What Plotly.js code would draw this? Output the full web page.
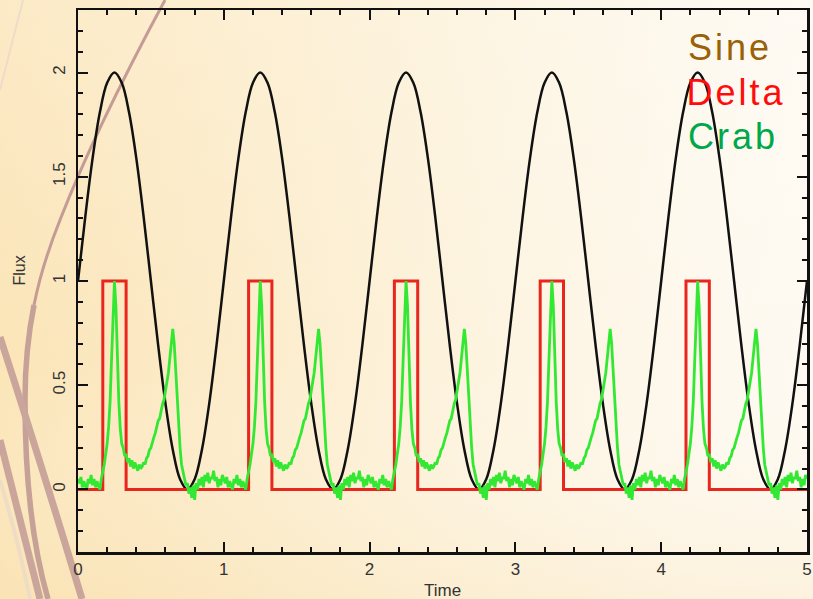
<!DOCTYPE html>
<html>
<head>
<meta charset="utf-8">
<script src="https://cdn.plot.ly/plotly-3.0.1.min.js"></script>
<style>
  html, body { margin:0; padding:0; }
  body { width:813px; height:599px; overflow:hidden; position:relative;
    background: linear-gradient(100deg, #fbe3b3 0%, #fcebc8 30%, #fdf4e0 60%, #fef9ef 85%, #fefaf2 100%); }
  #bg { position:absolute; left:0; top:0; }
  #chart { position:absolute; left:0; top:0; width:813px; height:599px; }
  g.annotation[data-index="0"] text, g.annotation[data-index="1"] text, g.annotation[data-index="2"] text { letter-spacing:3px; }
</style>
</head>
<body>
<svg id="bg" width="813" height="599" xmlns="http://www.w3.org/2000/svg">
  <defs>
    <linearGradient id="vshade" x1="0" y1="0" x2="0" y2="1">
      <stop offset="0" stop-color="#ffffff" stop-opacity="0.25"/>
      <stop offset="0.6" stop-color="#ffffff" stop-opacity="0"/>
      <stop offset="1" stop-color="#f6d9a0" stop-opacity="0.25"/>
    </linearGradient>
  </defs>
  <rect x="0" y="0" width="813" height="599" fill="url(#vshade)"/>
  <path d="M23,0 L0,90" stroke="#eedbc9" stroke-width="2" fill="none"/>
  <path d="M0,480 Q18,540 30,599" stroke="#efdcc4" stroke-width="4" fill="none"/>
  <path d="M165,0 Q95,130 60,220 Q42,265 34,305" stroke="#c49c95" stroke-width="3" fill="none"/>
  <path d="M34,305 Q25,350 25,400 Q25,520 48,599" stroke="#c6a198" stroke-width="5.5" fill="none"/>
  <path d="M0,337 Q40,460 82,599" stroke="#c9a59b" stroke-width="7" fill="none"/>
  <path d="M0,440 Q20,520 40,599" stroke="#c9a59b" stroke-width="7" fill="none"/>
</svg>
<div id="chart"></div>
<script>
// ---- data (one period profiles) ----
const periods = [0, 1, 2, 3, 4];

const sinePhase = [0, 0.05, 0.1, 0.15, 0.2, 0.25, 0.3, 0.35, 0.4, 0.45, 0.5, 0.55, 0.6, 0.65, 0.7, 0.75, 0.8, 0.85, 0.9, 0.95];
const sineValue = [1, 1.309, 1.588, 1.809, 1.951, 2, 1.951, 1.809, 1.588, 1.309, 1, 0.691, 0.412, 0.191, 0.049, 0, 0.049, 0.191, 0.412, 0.691];

const deltaPhase = [0, 0.17, 0.17, 0.33, 0.33];
const deltaValue = [0, 0, 1, 1, 0];

const crabPhase = [0, 0.01, 0.02, 0.03, 0.04, 0.05, 0.06, 0.07, 0.08, 0.09,
  0.10, 0.11, 0.12, 0.13, 0.14, 0.15, 0.16, 0.17, 0.18, 0.19,
  0.20, 0.21, 0.22, 0.23, 0.24, 0.25, 0.26, 0.27, 0.28, 0.29,
  0.30, 0.31, 0.32, 0.33, 0.34, 0.35, 0.36, 0.37, 0.38, 0.39,
  0.40, 0.41, 0.42, 0.43, 0.44, 0.45, 0.46, 0.47, 0.48, 0.49,
  0.50, 0.51, 0.52, 0.53, 0.54, 0.55, 0.56, 0.57, 0.58, 0.59,
  0.60, 0.61, 0.62, 0.63, 0.64, 0.65, 0.66, 0.67, 0.68, 0.69,
  0.70, 0.71, 0.72, 0.73, 0.74, 0.75, 0.76, 0.77, 0.78, 0.79,
  0.80, 0.81, 0.82, 0.83, 0.84, 0.85, 0.86, 0.87, 0.88, 0.89,
  0.90, 0.91, 0.92, 0.93, 0.94, 0.95, 0.96, 0.97, 0.98, 0.99];
const crabValue = [0.05, 0.03, 0.06, 0.01, 0.04, 0.02, 0.00, 0.05, 0.03, 0.07,
  0.02, 0.05, 0.01, 0.04, 0.02, 0.00, 0.05, 0.08, 0.12, 0.17,
  0.22, 0.30, 0.42, 0.62, 0.86, 1.00, 0.88, 0.64, 0.42, 0.29,
  0.22, 0.20, 0.16, 0.17, 0.13, 0.15, 0.11, 0.14, 0.10, 0.13,
  0.11, 0.09, 0.12, 0.10, 0.11, 0.13, 0.12, 0.15, 0.16, 0.19,
  0.20, 0.23, 0.25, 0.27, 0.30, 0.33, 0.34, 0.38, 0.41, 0.43,
  0.47, 0.52, 0.56, 0.63, 0.70, 0.77, 0.70, 0.57, 0.42, 0.30,
  0.20, 0.12, 0.08, 0.04, 0.02, 0.03, -0.02, 0.01, -0.04, 0.02,
  -0.05, 0.03, 0.00, 0.05, 0.02, 0.06, 0.01, 0.07, 0.04, 0.08,
  0.03, 0.06, 0.05, 0.09, 0.04, 0.06, 0.01, 0.05, 0.02, 0.07];

const xTickVals = [0, 1, 2, 3, 4, 5];
const yTickVals = [0, 0.5, 1, 1.5, 2];
const legendNames = ["Sine", "Delta", "Crab"];

// ---- build series by repeating each one-period profile ----
function tile(phase, vals) {
  const x = [], y = [];
  periods.forEach(p => phase.forEach((ph, i) => { x.push(p + ph); y.push(vals[i]); }));
  x.push(periods.length); y.push(vals[0]);
  return {x, y};
}
const sine = tile(sinePhase, sineValue);
const delta = tile(deltaPhase, deltaValue);
const crab = tile(crabPhase, crabValue);

const traces = [
  {x: sine.x, y: sine.y, mode: 'lines', line: {color: '#111111', width: 2.5, shape: 'spline', smoothing: 1}, hoverinfo: 'skip'},
  {x: delta.x, y: delta.y, mode: 'lines', line: {color: '#e8261e', width: 3}, hoverinfo: 'skip'},
  {x: crab.x, y: crab.y, mode: 'lines', line: {color: '#33e833', width: 2.8}, hoverinfo: 'skip'}
];

const tickFont = {family: 'Liberation Sans, Arial, sans-serif', size: 17, color: '#333333'};
const axisCommon = {
  showline: true, linecolor: '#111111', linewidth: 2.5, mirror: 'ticks',
  ticks: 'inside', ticklen: 10, tickwidth: 2, tickcolor: '#111111',
  showgrid: false, zeroline: false, tickfont: tickFont
};

const legendColors = ['#9a6208', '#ff0d0d', '#00a84a'];
const legendY = [0.930, 0.847, 0.766];
const annotations = legendNames.map((t, i) => ({
  text: t, xref: 'paper', yref: 'paper', x: 0.842, y: legendY[i],
  xanchor: 'left', yanchor: 'middle', showarrow: false,
  font: {family: 'Liberation Sans, Arial, sans-serif', size: 36, color: legendColors[i]}
}));
annotations.push({text: 'Time', xref: 'paper', yref: 'paper', x: 0.5, y: 0, yshift: -38,
  xanchor: 'center', yanchor: 'middle', showarrow: false,
  font: {family: 'Liberation Sans, Arial, sans-serif', size: 17, color: '#333333'}});
annotations.push({text: 'Flux', xref: 'paper', yref: 'y', x: 0, xshift: -58, y: 1.05,
  xanchor: 'center', yanchor: 'middle', textangle: -90, showarrow: false,
  font: {family: 'Liberation Sans, Arial, sans-serif', size: 16, color: '#333333'}});

const layout = {
  width: 813, height: 599,
  margin: {l: 78, r: 6, t: 10, b: 47},
  paper_bgcolor: 'rgba(0,0,0,0)', plot_bgcolor: 'rgba(0,0,0,0)',
  showlegend: false,
  xaxis: Object.assign({}, axisCommon, {range: [0, 5], tickvals: xTickVals,
    minor: {dtick: 0.2, ticks: 'inside', ticklen: 5, tickwidth: 2, tickcolor: '#111111'}}),
  yaxis: Object.assign({}, axisCommon, {range: [-0.3, 2.3], tickvals: yTickVals, tickangle: -90,
    ticklabelstandoff: 4,
    minor: {dtick: 0.1, ticks: 'inside', ticklen: 5, tickwidth: 2, tickcolor: '#111111'}}),
  annotations: annotations
};

Plotly.newPlot('chart', traces, layout, {displayModeBar: false, staticPlot: true});
</script>
</body>
</html>
